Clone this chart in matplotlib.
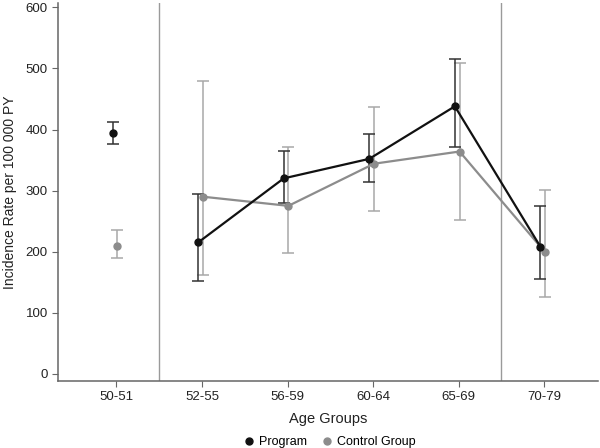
#!/usr/bin/env python
# coding:utf-8

"""
plot.py - incidence rate by age group, program vs control
"""

import matplotlib
matplotlib.use("Agg")
import matplotlib.pyplot as plt
import numpy as np

age_groups = ["50-51", "52-55", "56-59", "60-64", "65-69", "70-79"]

program = [394, 215, 320, 352, 438, 208]
program_lo = [376, 152, 280, 314, 371, 155]
program_hi = [412, 294, 365, 392, 516, 274]

control = [210, 290, 275, 344, 364, 199]
control_lo = [189, 162, 197, 267, 252, 125]
control_hi = [236, 480, 372, 437, 509, 301]

plt.rcParams["font.family"] = ["Liberation Sans", "DejaVu Sans"]


def draw(ax, x, y, lo, hi, color, ecolor, label):
    y = np.array(y)
    err = [y - np.array(lo), np.array(hi) - y]
    ax.errorbar(x, y, yerr=err, fmt="none", ecolor=ecolor, elinewidth=1.1,
                capsize=4, capthick=1.1, zorder=2)
    # first group stands alone, the rest are joined
    ax.plot(x[1:], y[1:], color=color, lw=1.6, zorder=3)
    ax.plot(x, y, "o", color=color, ms=5, zorder=4, label=label)


def main():
    fig = plt.figure(figsize=(6, 4.48), dpi=100)
    ax = fig.add_axes([0.097, 0.15, 0.9, 0.843])

    x = np.arange(len(age_groups))
    draw(ax, x + 0.01, control, control_lo, control_hi,
         "#8c8c8c", "#a8a8a8", "Control Group")
    draw(ax, x - 0.045, program, program_lo, program_hi,
         "#111111", "#333333", "Program")

    ax.axvline(0.5, color="#9a9a9a", lw=1, zorder=1)
    ax.axvline(4.5, color="#9a9a9a", lw=1, zorder=1)

    ax.set_xlim(-0.68, 5.63)
    ax.set_ylim(-11.5, 607)
    ax.set_yticks(np.arange(0, 601, 100))
    ax.set_xticks(x)
    ax.set_xticklabels(age_groups)

    for s in ["top", "right"]:
        ax.spines[s].set_visible(False)
    for s in ["left", "bottom"]:
        ax.spines[s].set_color("#666666")
        ax.spines[s].set_linewidth(1.1)
    ax.tick_params(colors="#666666", labelcolor="#222222", labelsize=9.5,
                   length=4)

    ax.set_ylabel("Incidence Rate per 100 000 PY", fontsize=10,
                  color="#222222", labelpad=6)
    ax.set_xlabel("Age Groups", fontsize=10.5, color="#222222", labelpad=6)

    handles, labels = ax.get_legend_handles_labels()
    fig.legend(handles[::-1], labels[::-1], loc="lower center",
               bbox_to_anchor=(0.55, -0.025), ncol=2, frameon=False,
               fontsize=9, markerscale=1.0, handlelength=0.8,
               handletextpad=0.4, columnspacing=1.2)

    fig.savefig("out.png", dpi=100)


if __name__ == "__main__":
    main()
